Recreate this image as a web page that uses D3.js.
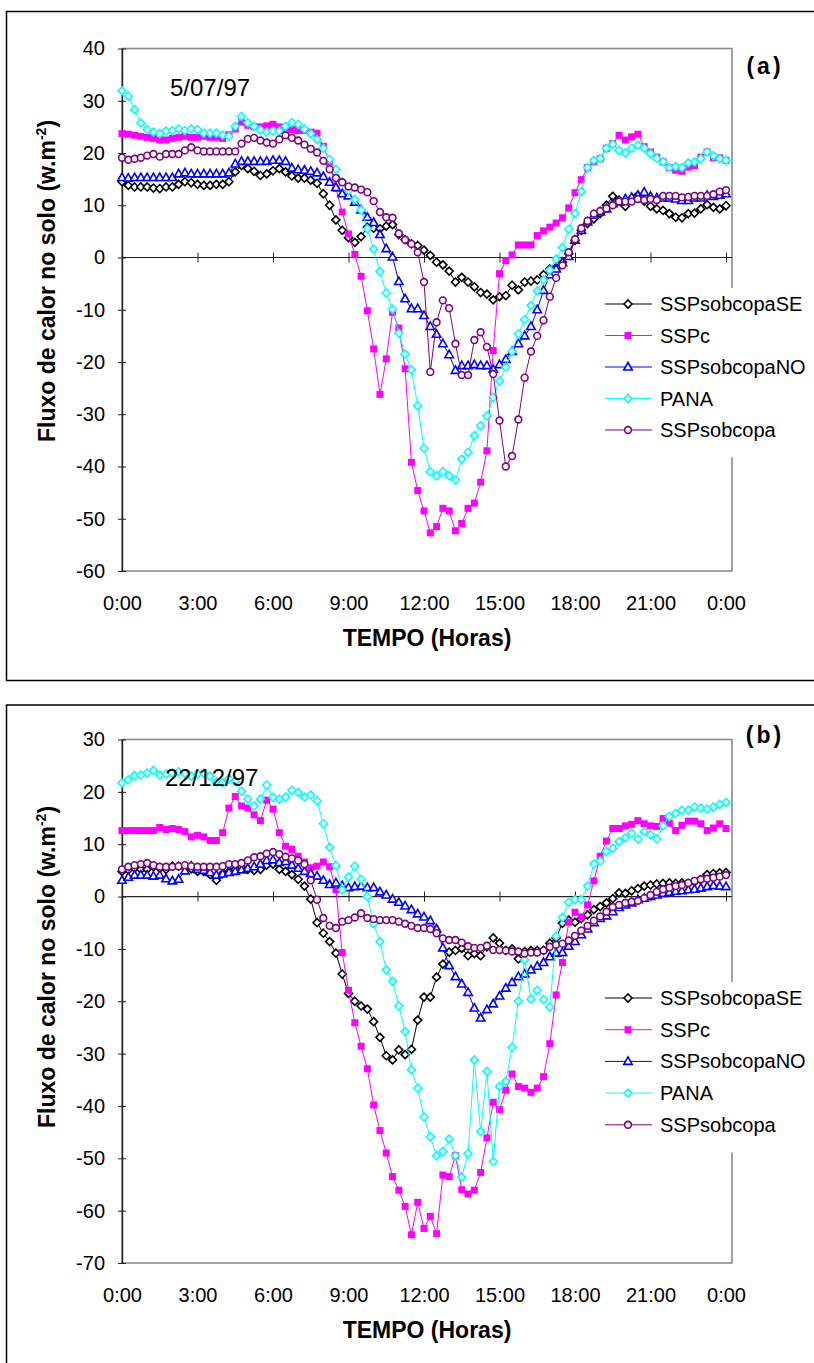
<!DOCTYPE html>
<html>
<head>
<meta charset="utf-8">
<script src="https://cdn.jsdelivr.net/npm/d3@7"></script>
<style>
  body { margin: 0; background: #fff; }
  text { font-family: Arial, "Liberation Sans", sans-serif; }
</style>
</head>
<body>
<svg id="svg" width="814" height="1363"></svg>
<script>
// --- data (15 min readings, 0:00 .. 24:00) ---
var tickHours = [0, 3, 6, 9, 12, 15, 18, 21, 24];
var tickLabels = ["0:00", "3:00", "6:00", "9:00", "12:00", "15:00", "18:00", "21:00", "0:00"];
var seriesNames = ["SSPsobcopaSE", "SSPc", "SSPsobcopaNO", "PANA", "SSPsobcopa"];

// panel (a) 5/07/97
var a_SE = [14.5, 13.8, 13.5, 13.5, 13.5, 13.3, 13.2, 13.5,
  13.5, 14.0, 14.5, 14.3, 14.0, 13.8, 13.8, 14.0,
  14.0, 14.5, 16.4, 17.6, 17.0, 16.5, 15.7, 16.0,
  16.6, 17.0, 16.4, 15.6, 15.2, 15.2, 14.8, 14.2,
  12.2, 10.0, 7.2, 5.2, 3.8, 2.9, 4.0, 5.8,
  5.6, 5.5, 6.0, 6.3, 4.4, 3.4, 2.6, 2.3,
  1.4, 0.4, -0.9, -1.4, -2.6, -4.7, -3.8, -4.7,
  -5.6, -6.7, -7.0, -8.1, -7.5, -7.3, -5.3, -6.2,
  -4.7, -4.5, -4.3, -3.3, -2.2, -1.9, -0.9, 0.7,
  3.3, 5.2, 6.5, 7.4, 8.4, 10.0, 11.7, 11.0,
  9.8, 11.3, 11.9, 10.8, 9.8, 9.3, 9.0, 8.4,
  7.7, 7.6, 8.4, 8.5, 9.3, 10.1, 9.6, 9.3,
  9.9];
var a_C = [23.7, 23.6, 23.4, 23.2, 23.0, 22.8, 22.5, 22.5,
  22.8, 23.0, 23.2, 23.0, 23.0, 23.2, 23.0, 23.0,
  22.8, 23.5, 24.6, 25.9, 25.3, 25.0, 25.0, 25.2,
  25.5, 25.0, 24.8, 24.5, 24.3, 24.3, 24.0, 23.8,
  21.3, 18.3, 13.2, 8.7, 4.5, 0.6, -3.6, -10.2,
  -17.5, -26.2, -19.4, -10.5, -13.5, -21.3, -39.2, -44.6,
  -48.5, -52.7, -51.5, -48.0, -48.5, -52.3, -50.9, -48.0,
  -47.0, -43.0, -37.0, -17.8, -3.1, -0.6, 0.5, 2.4,
  2.4, 2.4, 4.2, 5.1, 5.8, 6.6, 7.6, 9.5,
  12.4, 14.9, 17.2, 18.3, 18.9, 20.9, 21.8, 23.4,
  22.5, 23.1, 23.6, 21.2, 20.2, 19.2, 18.3, 17.2,
  16.7, 16.5, 17.3, 17.6, 19.2, 20.2, 19.1, 19.1,
  18.6];
var a_NO = [15.3, 15.2, 15.3, 15.3, 15.3, 15.3, 15.3, 15.3,
  15.3, 16.0, 16.2, 16.0, 16.0, 16.0, 16.0, 16.0,
  16.0, 16.2, 17.9, 18.4, 18.4, 18.4, 18.4, 18.4,
  18.6, 18.6, 18.4, 17.1, 16.8, 16.7, 16.5, 16.2,
  15.5, 14.4, 13.4, 12.2, 11.8, 10.6, 9.1, 7.7,
  6.7, 4.4, 1.7, 0.1, -4.6, -7.9, -9.8, -9.8,
  -11.1, -13.2, -14.7, -16.5, -18.6, -21.6, -20.7, -20.7,
  -20.5, -20.7, -20.7, -21.4, -20.5, -19.5, -18.0, -16.5,
  -15.0, -13.2, -10.0, -6.3, -3.3, -2.2, -1.0, 0.2,
  3.3, 5.2, 6.8, 8.1, 8.7, 9.3, 10.3, 10.6,
  11.2, 11.5, 11.9, 12.5, 11.7, 11.4, 11.4, 11.4,
  11.2, 10.9, 10.9, 11.4, 11.4, 11.9, 11.7, 11.9,
  12.2];
var a_PANA = [31.9, 30.9, 28.3, 25.7, 24.5, 24.0, 23.7, 24.2,
  24.3, 24.6, 24.3, 24.6, 24.5, 23.8, 23.8, 23.8,
  23.4, 23.2, 25.1, 27.0, 25.8, 25.1, 24.4, 24.0,
  24.2, 24.2, 25.1, 25.8, 25.5, 24.6, 23.7, 22.6,
  20.9, 18.8, 16.9, 14.5, 12.8, 11.1, 9.1, 5.5,
  1.6, -2.7, -6.8, -9.9, -14.5, -18.5, -21.5, -28.4,
  -36.5, -41.0, -41.8, -41.0, -41.8, -42.6, -38.6, -37.3,
  -34.1, -32.2, -30.3, -26.8, -23.6, -21.0, -18.0, -14.6,
  -11.9, -9.2, -6.4, -4.3, -2.4, -0.3, 1.9, 5.4,
  8.4, 12.6, 17.2, 18.6, 18.9, 20.9, 21.7, 20.5,
  20.0, 20.9, 21.5, 20.9, 19.9, 19.0, 18.3, 17.2,
  17.4, 17.2, 18.1, 18.3, 18.9, 20.2, 19.5, 18.9,
  18.6];
var a_SSP = [19.1, 18.7, 18.9, 19.1, 19.5, 19.8, 19.3, 19.8,
  19.8, 19.8, 20.5, 21.1, 20.5, 20.3, 20.3, 20.3,
  20.3, 20.3, 20.3, 21.8, 22.7, 22.9, 22.4, 22.0,
  21.8, 22.6, 23.4, 22.9, 22.4, 21.6, 20.8, 20.1,
  18.5, 16.9, 15.2, 14.4, 13.6, 13.4, 13.0, 12.5,
  10.8, 8.7, 7.7, 7.6, 4.6, 3.4, 2.6, 1.0,
  -4.7, -21.9, -12.4, -8.2, -9.7, -16.5, -22.5, -22.5,
  -15.8, -14.3, -17.1, -22.3, -31.2, -40.0, -38.0, -31.0,
  -23.0, -18.0, -15.0, -12.0, -7.5, -3.9, -1.5, 1.0,
  3.5, 5.6, 7.0, 8.4, 8.9, 9.4, 10.0, 10.7,
  10.7, 10.7, 11.2, 11.0, 11.2, 11.0, 11.8, 11.8,
  11.8, 11.5, 11.6, 11.8, 11.8, 11.8, 12.1, 12.6,
  12.9];

// panel (b) 22/12/97
var b_SE = [4.8, 5.1, 5.4, 5.2, 5.2, 5.7, 5.4, 5.2,
  5.8, 5.8, 5.5, 5.3, 4.8, 4.8, 4.2, 3.1,
  4.4, 4.8, 5.2, 5.7, 5.2, 5.0, 5.2, 6.0,
  6.2, 5.2, 4.8, 4.2, 3.3, 2.0, -0.5, -5.0,
  -7.0, -8.6, -10.8, -14.8, -18.5, -20.0, -20.9, -21.5,
  -23.9, -26.9, -30.4, -31.2, -29.3, -30.2, -29.2, -23.6,
  -19.2, -19.2, -15.4, -12.9, -10.6, -10.3, -9.9, -11.3,
  -10.9, -11.3, -9.6, -7.9, -8.9, -10.3, -10.0, -11.9,
  -10.5, -10.3, -10.3, -10.3, -8.9, -7.9, -5.1, -4.5,
  -4.9, -4.2, -3.5, -2.5, -1.9, -1.2, -0.4, 0.7,
  0.6, 1.1, 1.5, 2.0, 2.2, 2.4, 2.5, 2.6,
  2.5, 2.6, 2.5, 2.8, 3.2, 4.2, 4.4, 4.5,
  4.6];
var b_C = [12.6, 12.6, 12.6, 12.6, 12.6, 12.6, 13.2, 12.8,
  13.0, 12.8, 12.4, 11.4, 11.7, 11.4, 10.7, 10.7,
  12.2, 16.9, 19.1, 17.3, 16.9, 15.6, 14.5, 18.4,
  16.7, 12.2, 9.6, 9.0, 7.7, 6.6, 5.5, 5.8,
  6.6, 5.7, 1.3, -10.7, -17.9, -24.1, -28.6, -32.9,
  -39.8, -44.7, -49.0, -53.5, -56.1, -59.2, -64.6, -58.4,
  -63.4, -61.1, -64.4, -53.2, -53.5, -49.5, -56.0, -56.8,
  -56.1, -52.7, -46.1, -39.3, -40.7, -37.0, -33.9, -36.3,
  -36.6, -37.4, -36.6, -34.4, -28.1, -18.8, -12.6, -4.9,
  -3.0, -3.9, -1.6, 3.0, 7.7, 10.6, 13.0, 13.0,
  13.5, 13.8, 14.5, 13.9, 13.5, 13.4, 14.9, 14.0,
  12.6, 13.6, 14.4, 14.4, 13.9, 12.6, 13.1, 13.9,
  13.0];
var b_NO = [3.1, 3.7, 4.1, 4.1, 4.1, 3.9, 4.1, 3.4,
  3.0, 3.3, 4.9, 5.8, 5.2, 5.0, 4.6, 4.1,
  4.3, 4.6, 4.8, 5.1, 5.4, 5.7, 6.2, 6.9,
  7.0, 6.5, 6.7, 6.0, 5.4, 4.8, 4.4, 3.9,
  3.1, 2.3, 2.6, 2.1, 1.7, 1.9, 2.0, 1.7,
  1.7, 0.9, 0.3, -0.5, -1.1, -1.8, -2.5, -3.3,
  -3.9, -4.6, -6.2, -9.8, -13.2, -15.3, -16.7, -18.3,
  -21.3, -23.2, -21.6, -20.5, -19.0, -17.5, -16.4, -15.3,
  -14.8, -14.0, -13.3, -12.6, -11.5, -10.8, -10.7, -9.5,
  -8.6, -7.3, -6.2, -5.0, -4.2, -3.7, -2.9, -2.1,
  -1.6, -1.2, -0.6, -0.3, 0.0, 0.3, 0.6, 0.8,
  1.0, 1.1, 1.3, 1.4, 1.6, 1.9, 2.1, 2.0,
  1.9];
var b_PANA = [21.7, 22.3, 23.1, 23.2, 23.6, 24.1, 23.2, 23.4,
  23.6, 23.8, 23.5, 23.0, 23.4, 23.6, 23.0, 21.9,
  21.7, 22.5, 22.0, 20.1, 18.6, 17.3, 18.6, 21.3,
  19.0, 18.6, 19.0, 20.3, 19.9, 19.0, 19.4, 18.3,
  13.9, 9.4, 5.9, 1.3, 3.7, 5.8, 3.3, 0.0,
  -5.2, -8.6, -14.0, -16.2, -20.9, -25.8, -33.1, -36.6,
  -42.1, -45.9, -49.5, -48.7, -46.3, -49.5, -53.6, -49.1,
  -31.2, -44.9, -33.4, -50.6, -36.3, -35.3, -28.8, -20.0,
  -12.1, -19.6, -17.9, -19.7, -21.1, -7.6, -4.0, -1.1,
  -0.6, -0.6, 2.0, 6.2, 6.8, 8.6, 9.2, 10.5,
  11.2, 12.1, 11.0, 12.4, 11.8, 11.0, 13.5, 15.3,
  15.9, 16.5, 16.5, 17.1, 16.9, 16.7, 17.1, 17.6,
  18.0];
var b_SSP = [5.2, 5.7, 6.0, 6.2, 6.4, 6.0, 5.7, 5.7,
  5.7, 5.8, 6.0, 5.8, 5.7, 5.7, 5.7, 5.7,
  5.8, 6.2, 6.2, 6.4, 6.9, 7.5, 7.7, 8.2,
  8.5, 8.1, 7.6, 7.3, 6.9, 6.2, 3.1, -0.6,
  -4.1, -5.6, -6.0, -4.8, -4.5, -4.0, -3.2, -4.1,
  -4.3, -4.5, -4.5, -4.5, -4.8, -5.2, -5.6, -6.0,
  -6.0, -6.2, -7.0, -8.0, -8.3, -8.3, -8.8, -9.5,
  -9.8, -9.8, -9.4, -10.2, -10.2, -10.3, -10.5, -10.5,
  -10.9, -10.7, -10.7, -10.3, -9.6, -9.2, -9.0, -8.4,
  -7.5, -6.5, -5.6, -4.6, -3.8, -2.9, -2.0, -1.6,
  -1.2, -1.0, -0.8, -0.3, 0.3, 0.9, 1.4, 1.7,
  2.0, 2.2, 2.6, 3.0, 3.3, 3.4, 3.6, 3.8,
  4.1];

var colours = ["#000000", "#ff00ff", "#0000ff", "#00ffff", "#800080"];
var markers = ["diamond", "square", "triangle", "diamond", "circle"];

var svg = d3.select("#svg");
var hours = a_SE.map(function(d, i) { return i / 4; });

function markerPath(type) {
  if (type == "diamond") return "M0,-4L4,0L0,4L-4,0Z";
  if (type == "triangle") return "M0,-4.5L4.2,3L-4.2,3Z";
  if (type == "square") return "M-3.5,-3.5H3.5V3.5H-3.5Z";
  return d3.symbol(d3.symbolCircle, 36)();
}

function drawMarker(g, type, colour) {
  g.append("path")
    .attr("d", markerPath(type))
    .attr("fill", type == "square" ? colour : "#fff")
    .attr("stroke", colour)
    .attr("stroke-width", type == "square" ? 0 : 1.6);
}

function drawPanel(p) {
  var g = svg.append("g");

  // outer frame (runs off the right/bottom edge like the scan)
  g.append("rect")
    .attr("x", 6.5).attr("y", p.frameTop)
    .attr("width", 860).attr("height", p.frameH)
    .attr("fill", "none").attr("stroke", "#000").attr("stroke-width", 1.5);

  var x = d3.scaleLinear().domain([0, 24]).range([122, 726]);
  var y = d3.scaleLinear().domain(p.yDomain).range([p.bottom, p.top]);

  // plot area border
  g.append("rect")
    .attr("x", 122).attr("y", p.top)
    .attr("width", 732 - 122).attr("height", p.bottom - p.top)
    .attr("fill", "none").attr("stroke", "#8a8a8a").attr("stroke-width", 1.6);

  // y axis
  var yTicks = d3.range(p.yDomain[0], p.yDomain[1] + 1, 10);
  var yAxis = g.append("g")
    .attr("transform", "translate(122,0)")
    .call(d3.axisLeft(y).tickValues(yTicks).tickSizeInner(4).tickSizeOuter(0).tickPadding(13)
      .tickFormat(function(d) { return String(d); }));
  yAxis.selectAll(".tick line").attr("x1", 4).attr("stroke", "#222");
  yAxis.select(".domain").attr("stroke", "#222").attr("stroke-width", 1.4);
  yAxis.selectAll("text").attr("font-size", 20).attr("fill", "#000")
    .style("font-family", "Arial, 'Liberation Sans', sans-serif");

  // x axis through zero, ticks only
  var xAxis = g.append("g")
    .attr("transform", "translate(0," + y(0) + ")")
    .call(d3.axisBottom(x).tickValues(tickHours).tickSizeInner(5).tickSizeOuter(0).tickFormat(""));
  xAxis.selectAll(".tick line").attr("y1", -5).attr("stroke", "#222");
  xAxis.select(".domain").attr("stroke", "#222").attr("stroke-width", 1.2)
    .attr("d", "M122,0H732");

  // time labels at the bottom
  var xLab = g.append("g")
    .attr("transform", "translate(0," + p.bottom + ")")
    .call(d3.axisBottom(x).tickValues(tickHours).tickSize(0).tickPadding(p.labPad)
      .tickFormat(function(d, i) { return tickLabels[i]; }));
  xLab.select(".domain").remove();
  xLab.selectAll("text").attr("font-size", 20).attr("fill", "#000")
    .style("font-family", "Arial, 'Liberation Sans', sans-serif");

  // series, first drawn at the bottom
  p.series.forEach(function(vals, si) {
    var pts = vals.map(function(v, i) { return [hours[i], v]; });
    var line = d3.line().x(function(d) { return x(d[0]); }).y(function(d) { return y(d[1]); });
    g.append("path").datum(pts)
      .attr("d", line)
      .attr("fill", "none")
      .attr("stroke", colours[si])
      .attr("stroke-width", 1);
    g.append("g").selectAll("g").data(pts).enter().append("g")
      .attr("transform", function(d) { return "translate(" + x(d[0]) + "," + y(d[1]) + ")"; })
      .each(function() { drawMarker(d3.select(this), markers[si], colours[si]); });
  });

  // legend
  g.append("rect")
    .attr("x", 598).attr("y", p.legTop)
    .attr("width", 230).attr("height", p.legStep * 5 + 12)
    .attr("fill", "#fff");
  seriesNames.forEach(function(name, i) {
    var cy = p.legTop + 16 + i * p.legStep;
    var lg = g.append("g");
    lg.append("line").attr("x1", 605).attr("x2", 652).attr("y1", cy).attr("y2", cy)
      .attr("stroke", colours[i]).attr("stroke-width", 1);
    drawMarker(lg.append("g").attr("transform", "translate(628," + cy + ")"), markers[i], colours[i]);
    lg.append("text").attr("x", 660).attr("y", cy + 7)
      .attr("font-size", 20).text(name);
  });

  // texts
  g.append("text").attr("x", p.dateX).attr("y", p.dateY)
    .attr("font-size", 24).text(p.date);
  g.append("text").attr("x", 765).attr("y", p.letterY)
    .attr("text-anchor", "middle").attr("font-size", 23).attr("font-weight", "bold")
    .attr("letter-spacing", 3).text(p.letter);
  g.append("text").attr("x", 427).attr("y", p.xTitleY)
    .attr("text-anchor", "middle").attr("font-size", 23).attr("font-weight", "bold")
    .text("TEMPO (Horas)");
  var yt = g.append("text")
    .attr("transform", "translate(55," + p.yTitleY + ") rotate(-90)")
    .attr("text-anchor", "middle").attr("font-size", 23).attr("font-weight", "bold");
  yt.append("tspan").text("Fluxo de calor no solo (w.m");
  yt.append("tspan").attr("font-size", 14).attr("dy", -9).text("-2");
  yt.append("tspan").attr("dy", 9).text(")");
}

drawPanel({
  frameTop: 11.5, frameH: 669, top: 48.5, bottom: 571, yDomain: [-60, 40],
  labPad: 25, xTitleY: 646, yTitleY: 281,
  series: [a_SE, a_C, a_NO, a_PANA, a_SSP],
  legTop: 288, legStep: 31.5,
  date: "5/07/97", dateX: 170, dateY: 96, letter: "(a)", letterY: 74
});
drawPanel({
  frameTop: 705, frameH: 700, top: 739.5, bottom: 1263, yDomain: [-70, 30],
  labPad: 25, xTitleY: 1338, yTitleY: 967,
  series: [b_SE, b_C, b_NO, b_PANA, b_SSP],
  legTop: 982, legStep: 31.7,
  date: "22/12/97", dateX: 165, dateY: 786, letter: "(b)", letterY: 743
});
</script>
</body>
</html>
